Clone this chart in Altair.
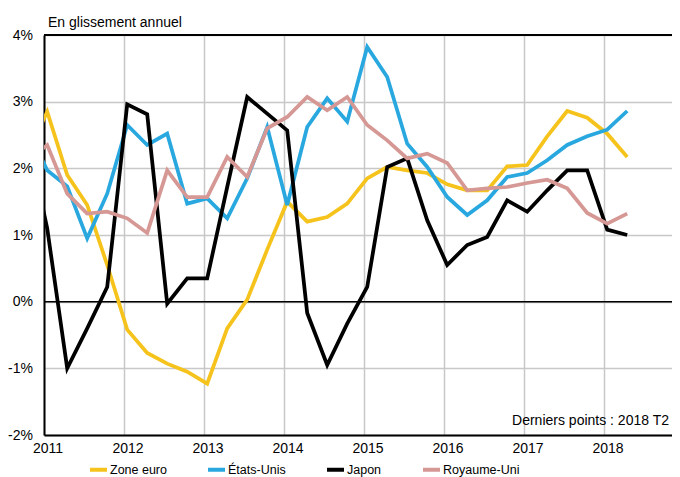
import altair as alt
import pandas as pd

# ---- data (year-on-year %, quarterly, 2010 T4 .. 2018 T2) ----
series_names = ["Zone euro", "États-Unis", "Japon", "Royaume-Uni"]
series_colors = ["#F5C31C", "#29A8E0", "#000000", "#D59894"]

quarter_labels = ["2010 T4"] + [f"{y} T{q}" for y in range(2011, 2019) for q in range(1, 5)][:-2]

zone_euro = [2.2,
             2.85, 1.9, 1.45, 0.55,
             -0.42, -0.77, -0.93, -1.05,
             -1.23, -0.4, 0.03, 0.78,
             1.5, 1.2, 1.27, 1.47,
             1.85, 2.02, 1.97, 1.93,
             1.76, 1.67, 1.67, 2.03,
             2.05, 2.48, 2.86, 2.76,
             2.52, 2.17]
etats_unis = [2.6,
              1.97, 1.73, 0.95, 1.62,
              2.65, 2.35, 2.52, 1.47,
              1.55, 1.25, 1.85, 2.62,
              1.45, 2.62, 3.05, 2.7,
              3.82, 3.37, 2.37, 2.02,
              1.57, 1.3, 1.52, 1.87,
              1.93, 2.12, 2.35, 2.48,
              2.58, 2.86]
japon = [2.5,
         1.1, -1.0, -0.4, 0.22,
         2.96, 2.81, -0.03, 0.35,
         0.35, 1.72, 3.07, 2.82,
         2.57, -0.17, -0.95, -0.33,
         0.22, 2.02, 2.15, 1.22,
         0.55, 0.85, 0.97, 1.52,
         1.35, 1.67, 1.97, 1.97,
         1.08, 1.0]
royaume_uni = [2.1,
               2.35, 1.62, 1.32, 1.35,
               1.25, 1.03, 1.97, 1.57,
               1.57, 2.17, 1.87, 2.6,
               2.77, 3.07, 2.87, 3.07,
               2.65, 2.42, 2.15, 2.22,
               2.08, 1.67, 1.7, 1.72,
               1.78, 1.83, 1.7, 1.33,
               1.17, 1.32]

year_ticks = list(range(2011, 2019))
pct_ticks = [-2, -1, 0, 1, 2, 3, 4]

# ---- build table ----
def quarter_pos(label):
    y, q = label.split(" T")
    return int(y) + (int(q) - 1) / 4 + 0.04

rows = []
for name, vals in zip(series_names, [zone_euro, etats_unis, japon, royaume_uni]):
    for lab, v in zip(quarter_labels, vals):
        rows.append({"serie": name, "trimestre": lab, "t": quarter_pos(lab), "v": v,
                     "ordre": series_names.index(name)})
df = pd.DataFrame(rows)

FONT = "Liberation Sans"

x_scale = alt.Scale(domain=[2011, 2018.85], nice=False, zero=False)
y_scale = alt.Scale(domain=[-2, 4], nice=False, zero=False)

lines = alt.Chart(df).mark_line(strokeWidth=3.75, clip=True, strokeJoin="miter").encode(
    x=alt.X("t:Q", scale=x_scale,
            axis=alt.Axis(values=year_ticks, format="d", title=None, grid=True,
                          gridColor="#C8C8C8", gridWidth=1.5, ticks=False, tickSize=0,
                          labelPadding=6, labelOffset=3.5, labelFont=FONT, labelFontSize=14,
                          labelColor="black", domainColor="black", domainWidth=2,
                          labelFlush=False, labelOverlap=False)),
    y=alt.Y("v:Q", scale=y_scale,
            axis=alt.Axis(values=pct_ticks, labelExpr="datum.value + '%'", title=None,
                          grid=True, gridColor="#C8C8C8", gridWidth=1.5, ticks=False,
                          tickSize=0, labelPadding=11.5, labelFont=FONT, labelFontSize=14,
                          labelColor="black", domainColor="black", domainWidth=2)),
    color=alt.Color("serie:N", sort=series_names,
                    scale=alt.Scale(domain=series_names, range=series_colors),
                    legend=alt.Legend(orient="none", legendX=44, legendY=424,
                                      direction="horizontal", title=None,
                                      symbolType="stroke", symbolSize=289,
                                      symbolStrokeWidth=4, labelFont=FONT,
                                      labelFontSize=12.5, labelColor="black",
                                      labelOffset=1, columnPadding=33, padding=0)),
    order=alt.Order("ordre:Q"),
)

zero_rule = alt.Chart(pd.DataFrame({"v": [0]})).mark_rule(color="black", strokeWidth=1.5).encode(
    y=alt.Y("v:Q", scale=y_scale)
)
top_rule = alt.Chart(pd.DataFrame({"v": [4]})).mark_rule(color="black", strokeWidth=2).encode(
    y=alt.Y("v:Q", scale=y_scale)
)

annot = pd.DataFrame({"txt": ["En glissement annuel"]})
title_txt = alt.Chart(annot).mark_text(font=FONT, fontSize=14, align="left",
                                       baseline="alphabetic", color="black").encode(
    x=alt.value(4), y=alt.value(-8), text="txt:N"
)
note = pd.DataFrame({"txt": ["Derniers points : 2018 T2"]})
note_txt = alt.Chart(note).mark_text(font=FONT, fontSize=14, align="right",
                                     baseline="alphabetic", color="black").encode(
    x=alt.value(625), y=alt.value(390), text="txt:N"
)

chart = alt.layer(zero_rule, lines, top_rule, title_txt, note_txt).properties(
    width=628, height=400,
    autosize=alt.AutoSizeParams(type="none"),
    padding={"left": 36, "top": 27, "right": 0, "bottom": 42},
).configure_view(stroke=None).resolve_scale(y="shared", x="shared")

chart.save("out.html", embed_options={"renderer": "svg", "actions": False})
